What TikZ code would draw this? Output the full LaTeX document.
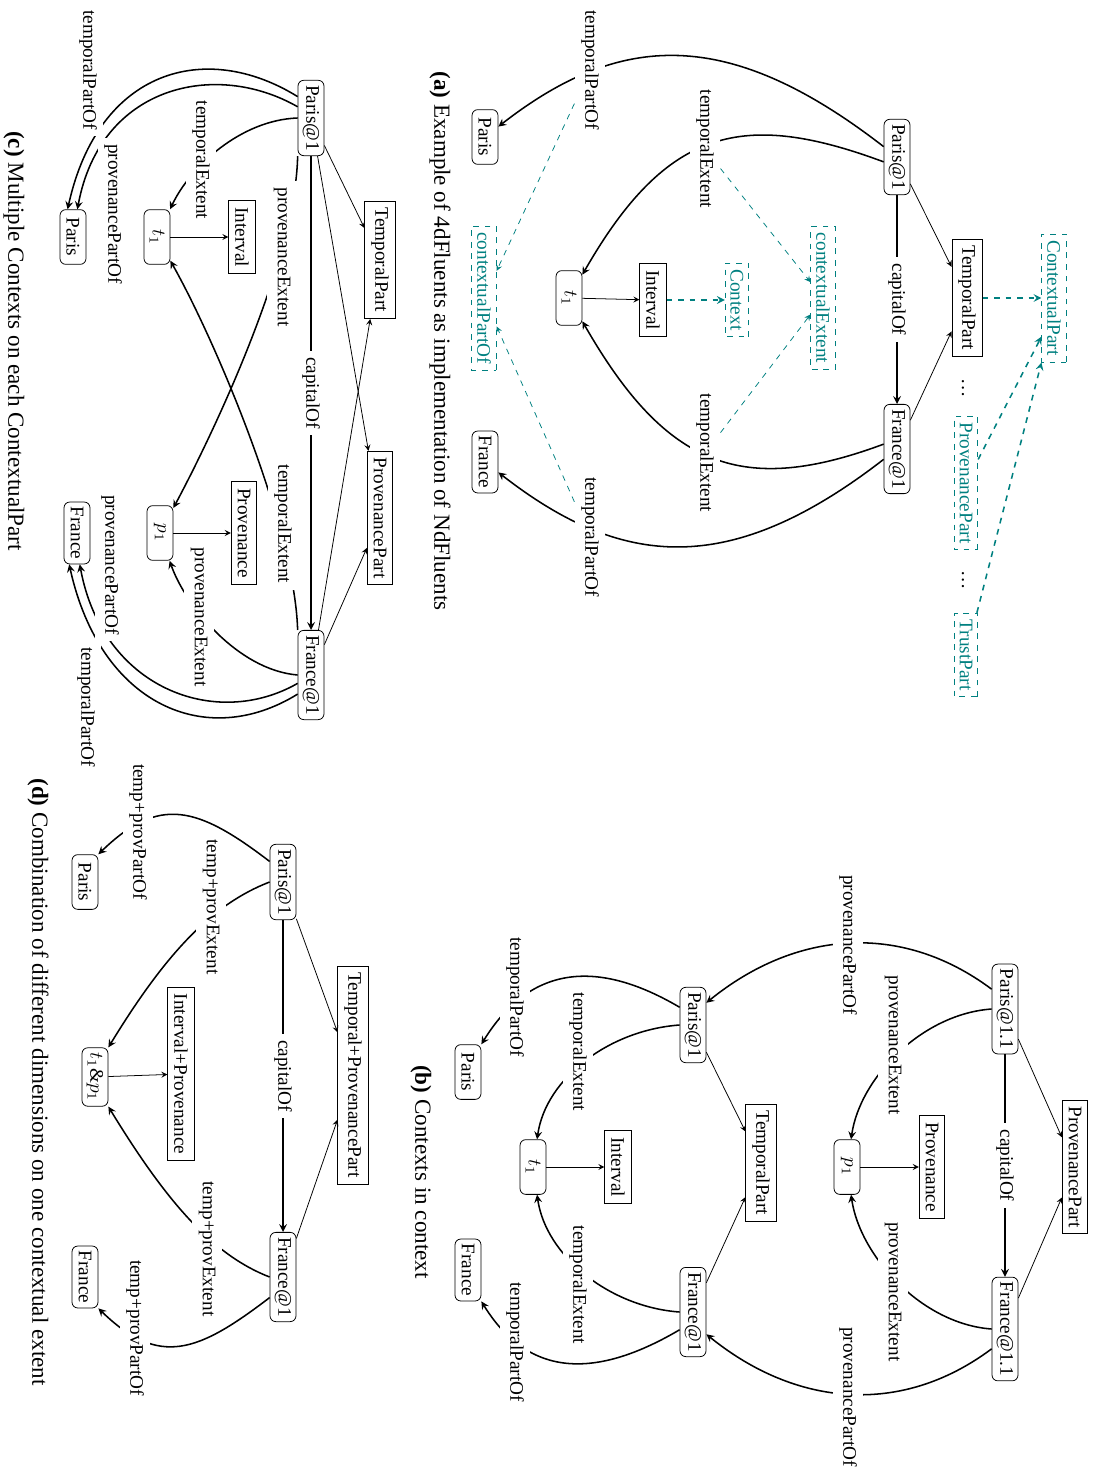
\documentclass[tikz,border=0pt]{standalone}
\usepackage{fontspec}
\setmainfont{Liberation Serif}

\tikzset{
  ent/.style={draw, rounded corners=3pt, inner xsep=2.5pt, inner ysep=2pt,
    minimum width=1cm, minimum height=13.5pt},
  cls/.style={draw},
  ctx/.style={draw=teal, dashed, text=teal, inner ysep=2.8pt},
  lbl/.style={fill=white},
  rel/.style={thick, ->},
  isa/.style={->},
  ctxarr/.style={teal, thick, dashed, ->},
  ctxlink/.style={teal, dashed, ->},
  capt/.style={font=\large},
}

\begin{document}
\begin{tikzpicture}[>=stealth, x=0.52pt, y=0.52pt]
\begin{scope}[rotate=-90, transform shape]
    \useasboundingbox (0,0) rectangle (1479,1099);

    % (a) 4dFluents
    \node[ctx] (cpartA) at (298,1054) {ContextualPart};
    \node[cls] (tpartA) at (298,967) {TemporalPart};
    \node[ctx] (ppartA) at (483,966) {ProvenancePart};
    \node[ctx] (trustA) at (655,966) {TrustPart};
    \node (dotsA) at (388,963) {\dots};
    \node (dotsB) at (580,963) {\dots};
    \node[ent] (parisAtA) at (157,897) {Paris@1};
    \node[ent] (franceAtA) at (449,897) {France@1};
    \node[ctx] (cextA) at (298,823) {contextualExtent};
    \node[ctx] (contextA) at (300,737) {Context};
    \node[cls] (intervalA) at (300,653) {Interval};
    \node[ent] (tA) at (298,569) {$t_1$};
    \node[ctx] (cpofA) at (298,484) {contextualPartOf};
    \node[ent] (parisA) at (137,485) {Paris};
    \node[ent] (franceA) at (462,485) {France};

    \draw[isa] (parisAtA) -- (tpartA);
    \draw[isa] (franceAtA) -- (tpartA);
    \draw[ctxarr] (tpartA) -- (cpartA);
    \draw[ctxarr] (ppartA) -- (cpartA.-18);
    \draw[ctxarr] (trustA) -- (cpartA.south east);
    \draw[rel] (parisAtA) -- node[lbl] (capA) {capitalOf} (franceAtA);
    \draw[isa] (tA) -- (intervalA);
    \draw[ctxarr] (intervalA) -- (contextA);
    \draw[rel] (parisAtA) .. controls +(-131,-169) and +(-105,135) .. (parisA);
    \draw[rel] (parisAtA.290) .. controls +(-52,-140) and +(-171,98) .. (tA);
    \draw[rel] (franceAtA) .. controls +(131,-169) and +(105,135) .. (franceA);
    \draw[rel] (franceAtA.250) .. controls +(52,-140) and +(171,98) .. (tA);

    \node[lbl] (tpoAL) at (70,590) {temporalPartOf};
    \node[lbl] (tpoAR) at (537,590) {temporalPartOf};
    \node[lbl] (teAL) at (149,705) {temporalExtent};
    \node[lbl] (teAR) at (453,705) {temporalExtent};

    \draw[ctxlink] (teAL) -- (cextA);
    \draw[ctxlink] (teAR) -- (cextA);
    \draw[ctxlink] (tpoAL) -- (cpofA);
    \draw[ctxlink] (tpoAR) -- (cpofA);

    \node[capt] (captA) at (341,440) {\textbf{(a)} Example of 4dFluents as implementation of NdFluents};

    % (b) contexts in context
    \node[ent] (parisAtB1) at (1009,1005) {Paris@1.1};
    \node[ent] (franceAtB1) at (1329,1005) {France@1.1};
    \node[cls] (ppartB) at (1167,1075) {ProvenancePart};
    \node[cls] (provB) at (1167,932) {Provenance};
    \node[ent] (pB) at (1167,847) {$p_1$};
    \node[ent] (parisAtB) at (1025,693) {Paris@1};
    \node[ent] (franceAtB) at (1312,693) {France@1};
    \node[cls] (tpartB) at (1163,761) {TemporalPart};
    \node[cls] (intervalB) at (1167,618) {Interval};
    \node[ent] (tB) at (1167,533) {$t_1$};
    \node[ent] (parisB) at (1072,468) {Paris};
    \node[ent] (franceB) at (1270,468) {France};

    \draw[isa] (parisAtB1) -- (ppartB);
    \draw[isa] (franceAtB1) -- (ppartB);
    \draw[rel] (parisAtB1) -- node[lbl] (capB) {capitalOf} (franceAtB1);
    \draw[isa] (pB) -- (provB);
    \draw[isa] (parisAtB) -- (tpartB);
    \draw[isa] (franceAtB) -- (tpartB);
    \draw[isa] (tB) -- (intervalB);
    \draw[rel] (parisAtB1.south) .. controls +(5,-70) and +(-89,13) .. (pB);
    \draw[rel] (franceAtB1.south) .. controls +(-5,-70) and +(89,13) .. (pB);
    \draw[rel] (parisAtB.south) .. controls +(5,-70) and +(-89,13) .. (tB);
    \draw[rel] (franceAtB.south) .. controls +(-5,-70) and +(89,13) .. (tB);
    \draw[rel] (parisAtB1.214) .. controls +(-68,-91) and +(-72,89) .. (parisAtB.149);
    \draw[rel] (franceAtB1.326) .. controls +(68,-91) and +(72,89) .. (franceAtB.31);
    \draw[rel] (parisAtB.217) .. controls +(-56,-95) and +(-68,42) .. (parisB.north west);
    \draw[rel] (franceAtB.323) .. controls +(56,-95) and +(68,42) .. (franceB.north east);

    \node[lbl] (ppoBL) at (945,848) {provenancePartOf};
    \node[lbl] (ppoBR) at (1397,848) {provenancePartOf};
    \node[lbl] (peBL) at (1045,893) {provenanceExtent};
    \node[lbl] (peBR) at (1292,893) {provenanceExtent};
    \node[lbl] (tpoBL) at (997,515) {temporalPartOf};
    \node[lbl] (tpoBR) at (1342,515) {temporalPartOf};
    \node[lbl] (teBL) at (1052,578) {temporalExtent};
    \node[lbl] (teBR) at (1285,578) {temporalExtent};

    \node[capt] (captB) at (1172,421) {\textbf{(b)} Contexts in context};

    % (c) one context per contextual part
    \node[ent] (parisAtC) at (118,311) {Paris@1};
    \node[ent] (franceAtC) at (675,311) {France@1};
    \node[cls] (tpartC) at (260,380) {TemporalPart};
    \node[cls] (ppartC) at (518,380) {ProvenancePart};
    \node[cls] (intervalC) at (237,242) {Interval};
    \node[cls] (provC) at (533,244) {Provenance};
    \node[ent] (tC) at (237,157) {$t_1$};
    \node[ent] (pC) at (533,160) {$p_1$};
    \node[ent] (parisC) at (237,73) {Paris};
    \node[ent] (franceC) at (533,77) {France};

    \draw[isa] (parisAtC) -- (tpartC);
    \draw[isa] (parisAtC) -- (ppartC);
    \draw[isa] (franceAtC) -- (tpartC);
    \draw[isa] (franceAtC) -- (ppartC);
    \draw[rel] (parisAtC) -- node[lbl] (capC) {capitalOf} (franceAtC);
    \draw[isa] (tC) -- (intervalC);
    \draw[isa] (pC) -- (provC);
    \draw[rel] (parisAtC.south) .. controls +(2,-57) and +(-70,33) .. (tC);
    \draw[rel] (parisAtC.south east) .. controls +(103,-2) and +(-103,55) .. (pC);
    \draw[rel] (franceAtC.south west) .. controls +(-103,-3) and +(103,58) .. (tC);
    \draw[rel] (franceAtC.south) .. controls +(-5,-60) and +(72,25) .. (pC);
    \draw[rel] (parisAtC.212) .. controls +(-57,-92) and +(-140,31) .. (parisC.191);
    \draw[rel] (parisAtC.230) .. controls +(-47,-82) and +(-124,23) .. (parisC.171);
    \draw[rel] (franceAtC.325) .. controls +(57,-92) and +(140,31) .. (franceC.-14);
    \draw[rel] (franceAtC.302) .. controls +(47,-82) and +(124,23) .. (franceC.5);

    \node[lbl] (tpoCL) at (70,88) {temporalPartOf};
    \node[lbl] (ppoCL) at (214,113) {provenancePartOf};
    \node[lbl] (teCL) at (160,201) {temporalExtent};
    \node[lbl] (peCL) at (257,282) {provenanceExtent};
    \node[lbl] (teCR) at (524,283) {temporalExtent};
    \node[lbl] (peCR) at (617,199) {provenanceExtent};
    \node[lbl] (ppoCR) at (565,110) {provenancePartOf};
    \node[lbl] (tpoCR) at (707,86) {temporalPartOf};

    \node[capt] (captC) at (341,14) {\textbf{(c)} Multiple Contexts on each ContextualPart};

    % (d) combined dimensions
    \node[ent] (parisAtD) at (882,283) {Paris@1};
    \node[ent] (franceAtD) at (1277,283) {France@1};
    \node[cls] (tppD) at (1075,353) {Temporal+ProvenancePart};
    \node[cls] (ipD) at (1074,181) {Interval+Provenance};
    \node[ent] (tpD) at (1077,95) {$t_1$\&$p_1$};
    \node[ent] (parisD) at (882,85) {Paris};
    \node[ent] (franceD) at (1277,85) {France};

    \draw[isa] (parisAtD) -- (tppD);
    \draw[isa] (franceAtD) -- (tppD);
    \draw[rel] (parisAtD) -- node[lbl] (capD) {capitalOf} (franceAtD);
    \draw[isa] (tpD) -- (ipD);
    \draw[rel] (parisAtD.213) .. controls +(-55,-72) and +(-59,61) .. (parisD.north west);
    \draw[rel] (franceAtD.327) .. controls +(55,-72) and +(59,61) .. (franceD.north east);
    \draw[rel] (parisAtD.south) .. controls +(22,-57) and +(-95,58) .. (tpD.north west);
    \draw[rel] (franceAtD.south) .. controls +(-22,-57) and +(95,58) .. (tpD.north east);

    \node[lbl] (tppoDL) at (832,138) {temp+provPartOf};
    \node[lbl] (tppoDR) at (1328,135) {temp+provPartOf};
    \node[lbl] (tpeDL) at (907,211) {temp+provExtent};
    \node[lbl] (tpeDR) at (1249,207) {temp+provExtent};

    \node[capt] (captD) at (1082,38) {\textbf{(d)} Combination of different dimensions on one contextual extent};
\end{scope}
\end{tikzpicture}
\end{document}
